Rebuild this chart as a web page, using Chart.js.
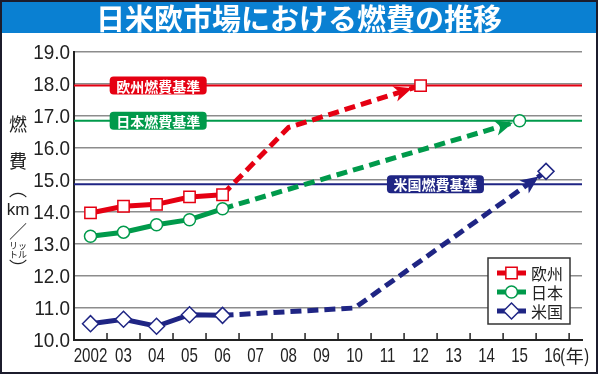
<!DOCTYPE html>
<html>
<head>
<meta charset="utf-8">
<script src="https://cdn.jsdelivr.net/npm/chart.js@4"></script>
<style>
  body { margin: 0; background: #fff; }
  #wrap { position: relative; width: 600px; height: 375px; }
  #chart { position: absolute; left: 0; top: 0; }
  #title {
    position: absolute; left: 2px; top: 2px; width: 594px; height: 31px;
    background: #0a80d2; color: #fff; text-align: center;
    font: bold 29px "Noto Sans CJK JP"; line-height: 31px;
  }
  #frame {
    position: absolute; left: 0; top: 0; width: 594px; height: 370px;
    border: 2px solid #1c1c2c; pointer-events: none;
  }
</style>
</head>
<body>
<div id="wrap">
  <canvas id="chart" width="600" height="375"></canvas>
  <div id="title">日米欧市場における燃費の推移</div>
  <div id="frame"></div>
</div>
<script>
// 実績 (2002-06)
const years = [2002, 2003, 2004, 2005, 2006];
const euActual = [13.97, 14.18, 14.24, 14.47, 14.54];
const jpActual = [13.24, 13.37, 13.60, 13.76, 14.10];
const usActual = [10.51, 10.65, 10.43, 10.79, 10.77];

// 見通し (点線部分)
const euProjYears = [2008, 2012];
const euProj = [16.64, 17.95];
const jpProjYears = [2015];
const jpProj = [16.85];
const usProjYears = [2010, 2015.8];
const usProj = [11.0, 15.27];

// 燃費基準
const standardNames = ['欧州燃費基準', '日本燃費基準', '米国燃費基準'];
const standardValues = [17.95, 16.85, 14.87];

const seriesNames = ['欧州', '日本', '米国'];

const RED = '#e50012';
const GREEN = '#009a4b';
const NAVY = '#1f2584';
const NUM_FONT = '"Liberation Sans", sans-serif';
const JP_FONT = '"Noto Sans CJK JP", sans-serif';

function buildPoints(xs, ys, pxs, pys) {
  return xs.map((x, i) => ({ x: x, y: ys[i] }))
    .concat(pxs.map((x, i) => ({ x: x, y: pys[i] })));
}

function makeDataset(label, color, style, radius, points, actualCount) {
  const last = points.length - 1;
  return {
    label: label,
    data: points,
    borderColor: color,
    backgroundColor: color,
    borderWidth: 5,
    pointStyle: style,
    pointRadius: ctx => (ctx.dataIndex < actualCount || ctx.dataIndex === last) ? radius : 0,
    pointHoverRadius: 0,
    pointBackgroundColor: '#fff',
    pointBorderColor: color,
    pointBorderWidth: 1.5,
    tension: 0,
    segment: {
      borderDash: ctx => ctx.p0DataIndex >= actualCount - 1 ? [11, 6] : undefined
    },
    markerRadius: radius
  };
}

const datasets = [
  makeDataset(seriesNames[0], RED, 'rect', 8, buildPoints(years, euActual, euProjYears, euProj), years.length),
  makeDataset(seriesNames[1], GREEN, 'circle', 6, buildPoints(years, jpActual, jpProjYears, jpProj), years.length),
  makeDataset(seriesNames[2], NAVY, 'rectRot', 8, buildPoints(years, usActual, usProjYears, usProj), years.length)
];

const standardColors = [RED, GREEN, NAVY];
const standardLabelX = [2004.05, 2004.05, 2012.45];

// 基準線とラベル
const standardsPlugin = {
  id: 'standards',
  beforeDatasetsDraw(chart) {
    const { ctx, chartArea, scales } = chart;
    ctx.save();
    standardValues.forEach((v, i) => {
      const y = scales.y.getPixelForValue(v);
      ctx.strokeStyle = standardColors[i];
      ctx.lineWidth = 2;
      ctx.beginPath();
      ctx.moveTo(chartArea.left, y);
      ctx.lineTo(chartArea.right, y);
      ctx.stroke();

      const cx = scales.x.getPixelForValue(standardLabelX[i]);
      const w = 97, h = 18;
      ctx.fillStyle = standardColors[i];
      ctx.beginPath();
      ctx.roundRect(cx - w / 2, y - h / 2, w, h, 4);
      ctx.fill();
      ctx.fillStyle = '#fff';
      ctx.font = 'bold 14px ' + JP_FONT;
      ctx.textAlign = 'center';
      ctx.textBaseline = 'middle';
      ctx.fillText(standardNames[i], cx, y + 1);
    });
    ctx.restore();
  }
};

// 点線の先の矢印
const arrowPlugin = {
  id: 'arrows',
  afterDatasetsDraw(chart) {
    const { ctx } = chart;
    ctx.save();
    chart.data.datasets.forEach((ds, i) => {
      const pts = chart.getDatasetMeta(i).data;
      const a = pts[pts.length - 2], b = pts[pts.length - 1];
      const dx = b.x - a.x, dy = b.y - a.y;
      const len = Math.hypot(dx, dy);
      const ux = dx / len, uy = dy / len;
      const tipX = b.x - ux * (ds.markerRadius + 1);
      const tipY = b.y - uy * (ds.markerRadius + 1);
      const baseX = tipX - ux * 18, baseY = tipY - uy * 18;
      const hw = 8;
      ctx.fillStyle = ds.borderColor;
      ctx.beginPath();
      ctx.moveTo(tipX, tipY);
      ctx.lineTo(baseX - uy * hw, baseY + ux * hw);
      ctx.lineTo(baseX + ux * 5, baseY + uy * 5);
      ctx.lineTo(baseX + uy * hw, baseY - ux * hw);
      ctx.closePath();
      ctx.fill();
    });
    ctx.restore();
  }
};

// narrow number labels (scaled horizontally)
function narrowText(ctx, text, x, y, sx, align) {
  ctx.save();
  ctx.translate(x, y);
  ctx.scale(sx, 1);
  ctx.textAlign = align;
  ctx.textBaseline = 'middle';
  ctx.fillText(text, 0, 0);
  ctx.restore();
}

// 目盛り, 縦軸タイトル, 凡例
const decorPlugin = {
  id: 'decor',
  afterDraw(chart) {
    const { ctx, chartArea, scales } = chart;
    ctx.save();

    // y tick labels
    ctx.fillStyle = '#222';
    ctx.font = '21px ' + NUM_FONT;
    scales.y.ticks.forEach(t => {
      const y = scales.y.getPixelForValue(t.value);
      narrowText(ctx, t.value.toFixed(1), chartArea.left - 4, y + 1, 0.9, 'right');
    });

    // x tick labels and tick marks between years
    ctx.strokeStyle = '#222';
    ctx.lineWidth = 1.5;
    scales.x.ticks.forEach(t => {
      const x = scales.x.getPixelForValue(t.value);
      if (Math.abs(t.value - Math.round(t.value)) < 0.01) {
        const yr = Math.round(t.value);
        const lbl = yr === 2002 ? '2002' : String(yr % 100).padStart(2, '0');
        narrowText(ctx, lbl, x, chartArea.bottom + 16, 0.72, 'center');
        return;
      }
      if (t.value <= scales.x.min) return;
      ctx.beginPath();
      ctx.moveTo(x, chartArea.bottom);
      ctx.lineTo(x, chartArea.bottom - 7);
      ctx.stroke();
    });

    // (年)
    ctx.font = '18px ' + JP_FONT;
    ctx.textAlign = 'left';
    ctx.textBaseline = 'middle';
    ctx.fillText('(年)', scales.x.getPixelForValue(2016) + 7, chartArea.bottom + 16);

    // y axis title
    const tx = 18;
    ctx.textAlign = 'center';
    ctx.font = '18px ' + JP_FONT;
    ctx.fillText('燃', tx, 124);
    ctx.fillText('費', tx, 161);
    ctx.fillText('︵', tx, 189);
    ctx.font = '17px "Liberation Sans", sans-serif';
    ctx.fillText('km', tx, 210);
    ctx.font = '18px ' + JP_FONT;
    ctx.fillText('／', tx, 231);
    ctx.font = '9px ' + JP_FONT;
    ctx.fillText('リッ', tx, 246);
    ctx.fillText('トル', tx, 255);
    ctx.font = '18px ' + JP_FONT;
    ctx.fillText('︶', tx, 268);

    // legend
    const lx = 488, ly = 258, lw = 82, lh = 66;
    ctx.fillStyle = '#fff';
    ctx.fillRect(lx, ly, lw, lh);
    ctx.strokeStyle = '#333';
    ctx.lineWidth = 1.5;
    ctx.strokeRect(lx, ly, lw, lh);
    chart.data.datasets.forEach((ds, i) => {
      const y = ly + 15 + i * 19;
      const mx = lx + 23.5;
      ctx.strokeStyle = ds.borderColor;
      ctx.lineWidth = 5;
      ctx.beginPath();
      ctx.moveTo(lx + 9, y);
      ctx.lineTo(lx + 38, y);
      ctx.stroke();
      ctx.fillStyle = '#fff';
      ctx.lineWidth = 1.5;
      ctx.beginPath();
      if (ds.pointStyle === 'rect') {
        const s = ds.markerRadius * Math.SQRT1_2;
        ctx.rect(mx - s, y - s, 2 * s, 2 * s);
      } else if (ds.pointStyle === 'circle') {
        ctx.arc(mx, y, ds.markerRadius, 0, Math.PI * 2);
      } else {
        const r = ds.markerRadius;
        ctx.moveTo(mx - r, y);
        ctx.lineTo(mx, y - r);
        ctx.lineTo(mx + r, y);
        ctx.lineTo(mx, y + r);
        ctx.closePath();
      }
      ctx.fill();
      ctx.stroke();
      ctx.fillStyle = '#222';
      ctx.font = '16px ' + JP_FONT;
      ctx.textAlign = 'left';
      ctx.textBaseline = 'middle';
      ctx.fillText(ds.label, lx + 43, y + 1);
    });

    ctx.restore();
  }
};

new Chart(document.getElementById('chart'), {
  type: 'line',
  data: { datasets: datasets },
  options: {
    responsive: false,
    animation: false,
    devicePixelRatio: 1,
    layout: { padding: { top: 52, right: 18, left: 0, bottom: 0 } },
    plugins: {
      legend: { display: false },
      tooltip: { enabled: false }
    },
    scales: {
      x: {
        type: 'linear',
        min: 2001.5,
        max: 2016.89,
        afterFit: s => { s.height = 35; },
        ticks: {
          display: false,
          stepSize: 0.5,
          includeBounds: false,
          autoSkip: false
        },
        grid: { drawOnChartArea: false, drawTicks: false },
        border: { color: '#222', width: 2 }
      },
      y: {
        min: 10,
        max: 19,
        afterFit: s => { s.width = 74; },
        ticks: {
          display: false,
          stepSize: 1
        },
        grid: { color: '#8c8c8c', lineWidth: 1.5, drawTicks: false },
        border: { color: '#222', width: 2 }
      }
    }
  },
  plugins: [standardsPlugin, arrowPlugin, decorPlugin]
});
</script>
</body>
</html>
